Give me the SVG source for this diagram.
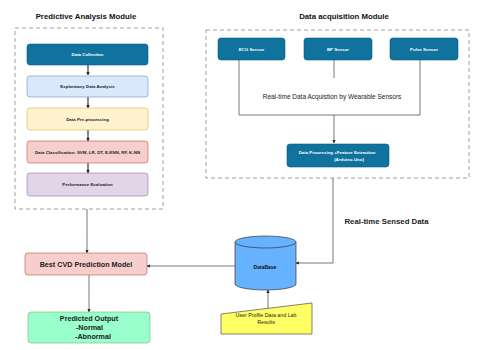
<svg xmlns="http://www.w3.org/2000/svg" width="480" height="350" viewBox="0 0 480 350">
<defs>
<marker id="ah" viewBox="0 0 10 10" refX="9" refY="5" markerWidth="4" markerHeight="4" orient="auto"><path d="M0,0 L10,5 L0,10 z" fill="#222"/></marker>
<marker id="ahs" viewBox="0 0 10 10" refX="9" refY="5" markerWidth="3" markerHeight="3" orient="auto"><path d="M0,0 L10,5 L0,10 z" fill="#222"/></marker>
<style>
text{font-family:"Liberation Sans",Arial,sans-serif;text-anchor:middle}
.title{font-size:7.8px;font-weight:bold;fill:#111}
.sm{font-size:4.4px;font-weight:bold;fill:#222}
.smw{font-size:4.4px;font-weight:bold;fill:#fff}
.dash{fill:none;stroke:#888;stroke-width:0.8;stroke-dasharray:4 3}
.box{stroke-width:0.6}
.dark{fill:#10739e;stroke:#0b5b7e}
.ln{fill:none;stroke:#555;stroke-width:0.8}
.lnd{fill:none;stroke:#1f3b5a;stroke-width:1.2}
.lbl{font-size:7.2px;font-weight:bold;fill:#222}
</style>
</defs>
<rect width="480" height="350" fill="#fff"/>

<text class="title" x="86" y="19">Predictive Analysis Module</text>
<text class="title" x="344" y="19">Data acquisition Module</text>
<rect class="dash" x="15" y="28" width="148" height="181"/>
<rect class="dash" x="206" y="30" width="263" height="148"/>

<g id="connectors">
<path class="lnd" d="M88,64 V75" marker-end="url(#ahs)"/>
<path class="lnd" d="M88,97 V108" marker-end="url(#ahs)"/>
<path class="lnd" d="M88,130 V141" marker-end="url(#ahs)"/>
<path class="lnd" d="M88,163 V173" marker-end="url(#ahs)"/>
<path class="ln" d="M239,60 V115 H420 V60"/>
<path class="ln" d="M334,60 V78"/>
<path class="ln" d="M334,115 V143" marker-end="url(#ah)"/>
<path class="ln" d="M87,209 V253" marker-end="url(#ah)"/>
<path class="ln" d="M89,275 V312" marker-end="url(#ah)"/>
<path class="ln" d="M235,266 H147" marker-end="url(#ah)"/>
<path class="ln" d="M333,178 V263 H296" marker-end="url(#ah)"/>
<path class="ln" d="M268,310 V290" marker-end="url(#ah)"/>
</g>

<g id="data-collection"><rect class="box dark" x="27" y="44" width="121" height="21" rx="3"/><text class="smw" x="87.5" y="56">Data Collection</text></g>
<g id="eda"><rect class="box" x="27" y="76" width="121" height="21" rx="3" fill="#dae8fc" stroke="#6c8ebf"/><text class="sm" x="87.5" y="88">Exploratory Data Analysis</text></g>
<g id="preproc"><rect class="box" x="27" y="108" width="121" height="22" rx="3" fill="#fff2cc" stroke="#d6b656"/><text class="sm" x="87.5" y="120.5">Data Pre-processing</text></g>
<g id="classification"><rect class="box" x="27" y="141" width="121" height="22" rx="3" fill="#f8cecc" stroke="#b85450"/><text class="sm" x="87.5" y="153.5">Data Classification: SVM, LR, DT, E-KNN, RF, K-NN</text></g>
<g id="perf"><rect class="box" x="27" y="173" width="121" height="23" rx="3" fill="#e1d5e7" stroke="#9673a6"/><text class="sm" x="87.5" y="186">Performance Evaluation</text></g>

<g id="ecg"><rect class="box dark" x="218" y="38" width="67" height="22" rx="3"/><text class="smw" x="251.5" y="50.5">ECG Sensor</text></g>
<g id="bp"><rect class="box dark" x="304" y="38" width="68" height="22" rx="3"/><text class="smw" x="338" y="50.5">BP Sensor</text></g>
<g id="pulse"><rect class="box dark" x="390" y="38" width="68" height="22" rx="3"/><text class="smw" x="424" y="50.5">Pulse Sensor</text></g>
<text x="332" y="99" style="font-size:6.5px;fill:#222">Real-time Data Acquistion by Wearable Sensors</text>
<g id="processing"><rect class="box dark" x="287" y="144" width="102" height="23" rx="3"/><text class="smw" x="337" y="154">Data Processing +Feature Extraction</text><text class="smw" x="349" y="161">(Arduino-Uno)</text></g>

<text x="386.5" y="224" class="lbl" style="font-size:7.8px">Real-time Sensed Data</text>

<g id="best"><rect x="25" y="253" width="122" height="22" rx="3" fill="#f8cecc" stroke="#b85450" stroke-width="0.6"/><text class="lbl" x="86" y="267">Best CVD Prediction Model</text></g>
<g id="output"><rect x="28" y="312" width="122" height="31" rx="3" fill="#99ffcc" stroke="#82b366" stroke-width="0.6"/><text class="lbl" x="89" y="321">Predicted Output</text><text class="lbl" x="89.5" y="330">-Normal</text><text class="lbl" x="93" y="339">-Abnormal</text></g>

<g id="database"><path d="M235,242 V284 A30.5,6 0 0 0 296,284 V242" fill="#66b2ff" stroke="#333" stroke-width="0.7"/><ellipse cx="265.5" cy="242" rx="30.5" ry="6" fill="#66b2ff" stroke="#333" stroke-width="0.7"/><text x="265" y="269" style="font-size:5px;font-weight:bold;fill:#111">DataBase</text></g>

<g id="user-profile"><path d="M221,314 L312,303 V334 H221 z" fill="#ffff66" stroke="#333" stroke-width="0.6" stroke-linejoin="round"/><text x="266" y="316.5" style="font-size:5.3px;fill:#222">User Profile Data and Lab</text><text x="266" y="323.5" style="font-size:5.3px;fill:#222">Results</text></g>
</svg>
